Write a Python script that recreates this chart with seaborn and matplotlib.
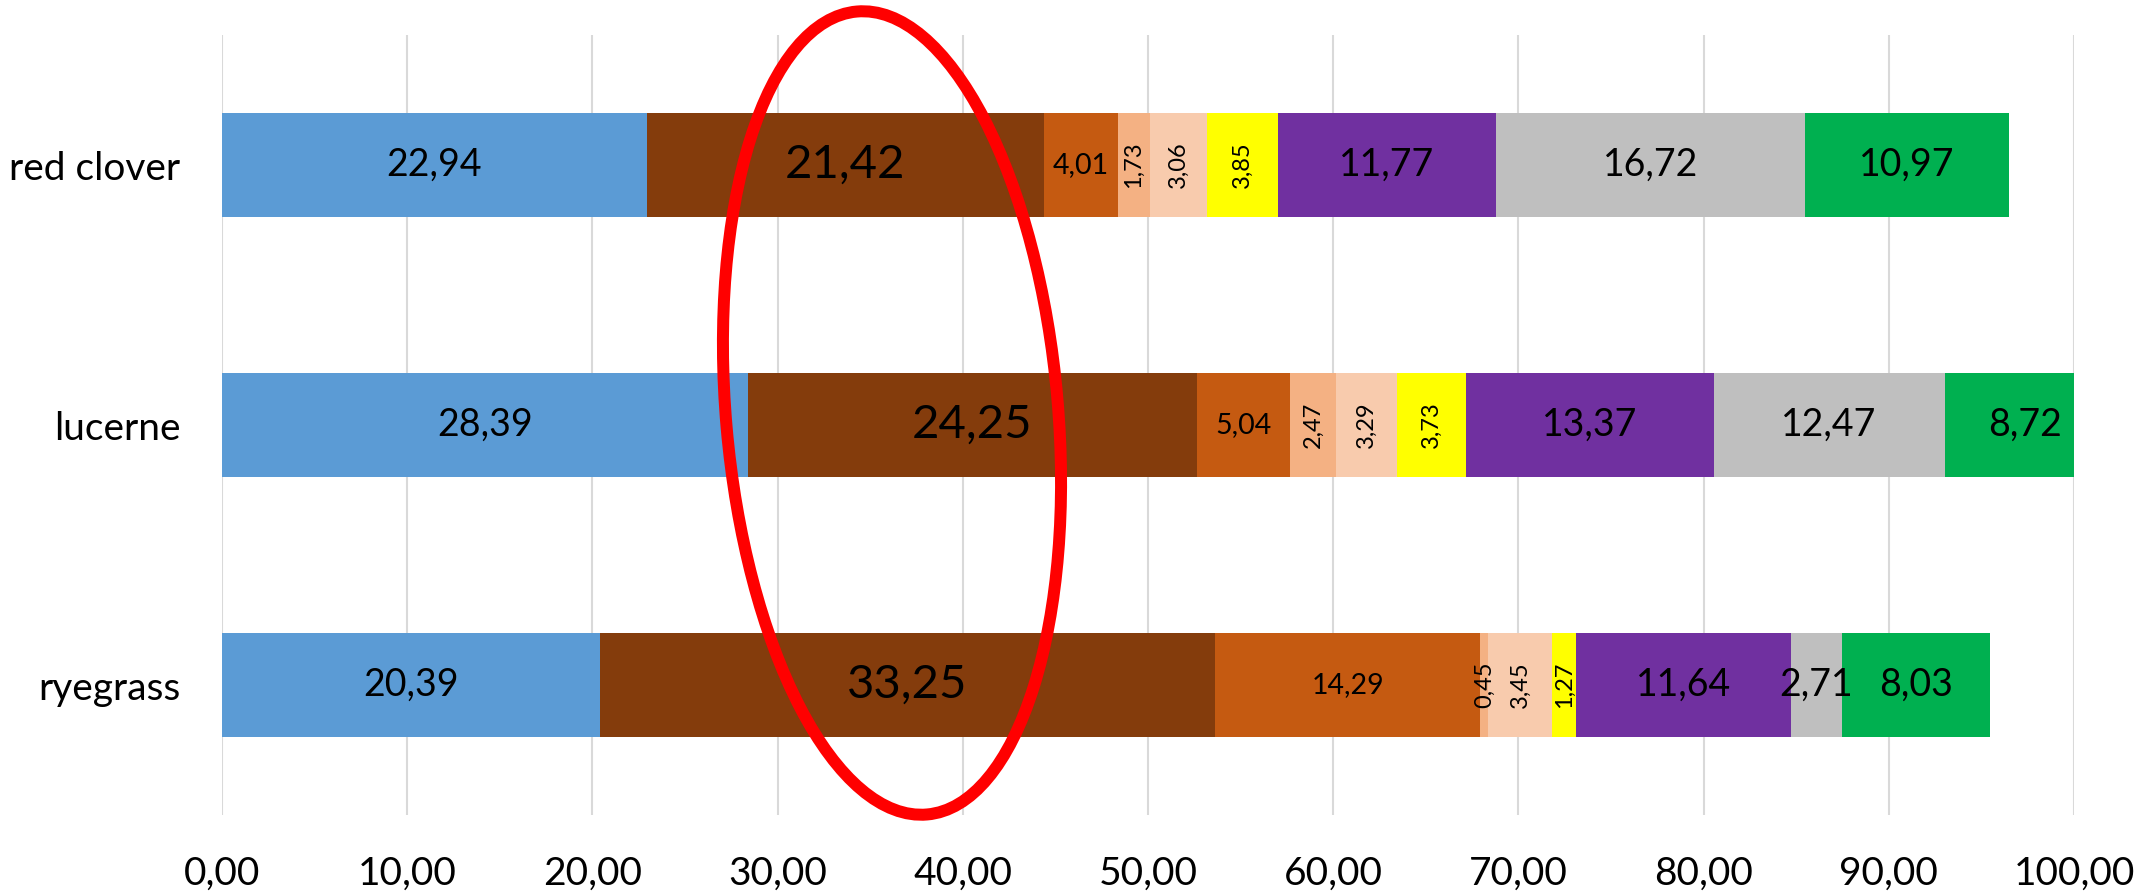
import numpy as np
import pandas as pd
import seaborn as sns
import matplotlib
matplotlib.use("Agg")
import matplotlib.pyplot as plt
from matplotlib.patches import Ellipse
from matplotlib.transforms import IdentityTransform
from matplotlib.ticker import FuncFormatter

# Crops and their component shares (%)
crops = ["red clover", "lucerne", "ryegrass"]
s1 = [22.94, 28.39, 20.39]
s2 = [21.42, 24.25, 33.25]
s3 = [4.01, 5.04, 14.29]
s4 = [1.73, 2.47, 0.45]
s5 = [3.06, 3.29, 3.45]
s6 = [3.85, 3.73, 1.27]
s7 = [11.77, 13.37, 11.64]
s8 = [16.72, 12.47, 2.71]
s9 = [10.97, 8.72, 8.03]

series = [s1, s2, s3, s4, s5, s6, s7, s8, s9]
colors = ["#5B9BD5", "#843C0C", "#C55A11", "#F4B183", "#F8CBAD",
          "#FFFF00", "#7030A0", "#BFBFBF", "#00B050"]
# label style per series: font size and rotation
label_sizes = [27, 34, 20.5, 17, 17, 17, 27, 27, 27]
label_rot = [0, 0, 0, 90, 90, 90, 0, 0, 0]

sns.set_theme(style="white")
plt.rcParams["font.family"] = ["Lato", "DejaVu Sans"]

W, H = 2139, 893
fig = plt.figure(figsize=(W / 100, H / 100), dpi=100)
ax = fig.add_axes([222 / W, 1 - 815 / H, (2074 - 222) / W, (815 - 35) / H])

vals = np.array(series)
cum = np.cumsum(vals, axis=0)

# Stack by overdrawing cumulative totals, largest first
for i in range(len(series) - 1, -1, -1):
    df = pd.DataFrame({"crop": crops, "value": cum[i]})
    sns.barplot(data=df, x="value", y="crop", order=crops, orient="h",
                color=colors[i], saturation=1, width=0.4, linewidth=0,
                ax=ax, zorder=2)

# Value labels centred on each segment
for i, s in enumerate(series):
    for j, v in enumerate(s):
        xc = cum[i][j] - v / 2
        ax.text(xc, j, f"{v:.2f}".replace(".", ","), ha="center",
                va="center", fontsize=label_sizes[i], rotation=label_rot[i],
                color="black", zorder=5)

ax.set_xlim(0, 100)
ax.set_ylim(2.5, -0.5)
ax.set_xticks(np.arange(0, 101, 10))
ax.xaxis.set_major_formatter(FuncFormatter(lambda x, p: f"{x:.2f}".replace(".", ",")))
ax.grid(axis="x", color="#D9D9D9", linewidth=1.5, zorder=0)
ax.grid(axis="y", visible=False)
ax.set_axisbelow(True)
for sp in ax.spines.values():
    sp.set_visible(False)
ax.set_xlabel("")
ax.set_ylabel("")
ax.tick_params(axis="x", length=0, pad=29, labelsize=28, labelcolor="black")
ax.tick_params(axis="y", length=0, pad=30, labelsize=28, labelcolor="black")

# Red highlight ring (figure pixel coordinates)
ring = Ellipse((892, H - 413), width=332, height=806, angle=5,
               fill=False, edgecolor="#FF0000", linewidth=12 * 0.72,
               transform=IdentityTransform(), zorder=10)
fig.patches.append(ring)

fig.savefig("out.png", dpi=100, facecolor="white")
